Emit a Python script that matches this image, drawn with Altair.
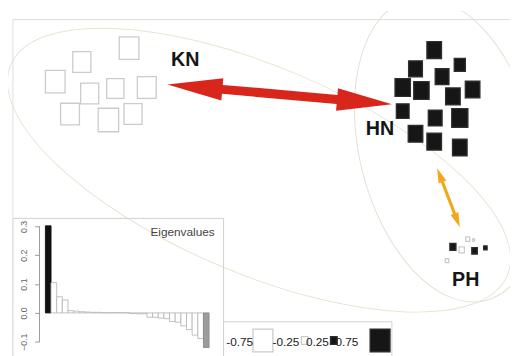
import math
import altair as alt
import pandas as pd

# ---------------- data ----------------
# sample scores on the two ordination axes and the plotted value of each sample
kn_x = [-1.29, -1.77, -2.04, -1.69, -1.43, -1.11, -1.89, -1.50, -1.25]
kn_y = [1.34, 1.20, 1.00, 0.88, 0.93, 0.94, 0.67, 0.61, 0.67]
kn_v = [-0.74, -0.68, -0.74, -0.68, -0.65, -0.71, -0.71, -0.77, -0.68]

hn_x = [1.81, 1.62, 2.07, 1.89, 1.49, 1.68, 2.00, 2.20, 1.49, 1.82, 2.07, 1.62, 1.81, 2.07]
hn_y = [1.32, 1.13, 1.17, 1.05, 0.94, 0.91, 0.85, 0.92, 0.70, 0.63, 0.63, 0.47, 0.39, 0.33]
hn_v = [0.55, 0.52, 0.42, 0.52, 0.58, 0.58, 0.55, 0.55, 0.48, 0.52, 0.61, 0.55, 0.55, 0.55]

ph_x = [2.15, 2.21, 2.00, 2.09, 2.22, 2.33, 1.94]
ph_y = [-0.60, -0.61, -0.68, -0.71, -0.72, -0.69, -0.82]
ph_v = [-0.15, -0.07, 0.23, -0.20, 0.21, 0.13, -0.13]

group_names = ["KN", "HN", "PH"]
group_lab_x = [-0.72, 1.26, 2.13]
group_lab_y = [1.22, 0.52, -1.02]

# arrows between groups (from, to)
red_arrow = [(-0.90, 0.97), (1.38, 0.77)]
yellow_arrow = [(1.84, 0.12), (2.07, -0.48)]

# ellipse centres
ell_big_centre = (0.03, 0.10)
ell_hn_centre = (1.95, 0.31)

# eigenvalues
eig = [0.302, 0.105, 0.056, 0.045, 0.008, 0.006, 0.004, 0.003, 0.002, 0.002,
       0.001, 0.001, 0.001, 0.001, 0.0005, -0.002, -0.003, -0.003, -0.015, -0.015,
       -0.018, -0.020, -0.030, -0.032, -0.045, -0.058, -0.077, -0.089, -0.120]
eig_ticks = [-0.1, 0.0, 0.1, 0.2, 0.3]

legend_vals = [-0.75, -0.25, 0.25, 0.75]

# ---------------- layout / style ----------------
W, H = 510, 348
PX = 100.0  # pixels per unit on main panel
XMIN, YMAX = -2.52, 1.72
xs = alt.Scale(domain=[XMIN, XMIN + W / PX], nice=False, zero=False)
ys = alt.Scale(domain=[YMAX - H / PX, YMAX], nice=False, zero=False)
FONT = "Liberation Sans"

RECT = "M-0.87,-1L0.87,-1L0.87,1L-0.87,1Z"
SIDE = 31.0  # pixel height of a square for |value| = 1
size_scale = alt.Scale(domain=[0, 1], range=[0, SIDE * SIDE])
fill_scale = alt.Scale(domain=["neg", "pos"], range=["#ffffff", "#161616"])
stroke_scale = alt.Scale(domain=["neg", "pos"], range=["#cbcbcb", "#2e2e2e"])


def ellipse_path(ratio):
    return (f"M1,0A1,{ratio} 0 1 1 -1,0A1,{ratio} 0 1 1 1,0Z")


def arrow_path(length_px, head_len, head_half, shaft_half):
    u = length_px / 2.0
    h = 1 - head_len / u
    a = head_half / u
    s = shaft_half / u
    return (f"M1,0L{h:.3f},{a:.3f}L{h:.3f},{s:.3f}L{-h:.3f},{s:.3f}L{-h:.3f},{a:.3f}"
            f"L-1,0L{-h:.3f},{-a:.3f}L{-h:.3f},{-s:.3f}L{h:.3f},{-s:.3f}L{h:.3f},{-a:.3f}Z")


def X(f):
    return alt.X(f, type="quantitative", scale=xs, axis=None)


def Y(f):
    return alt.Y(f, type="quantitative", scale=ys, axis=None)


one = pd.DataFrame({"z": [0]})

# ---------------- main panel ----------------
def ellipse_layer(centre, a_px, ratio, angle, color):
    df = pd.DataFrame({"x": [centre[0]], "y": [centre[1]]})
    return alt.Chart(df).mark_point(
        shape=ellipse_path(ratio), filled=False, color=color, strokeWidth=1,
        opacity=1, size=(2 * a_px) ** 2, angle=angle, clip=True
    ).encode(x=X("x"), y=Y("y"))


ell_big = ellipse_layer(ell_big_centre, 274, 0.383, 23, "#e8e5d2")
ell_hn = ellipse_layer(ell_hn_centre, 158, 0.568, 76, "#e3e1d3")

pts = pd.concat([
    pd.DataFrame({"x": kn_x, "y": kn_y, "v": kn_v, "g": "KN"}),
    pd.DataFrame({"x": hn_x, "y": hn_y, "v": hn_v, "g": "HN"}),
    pd.DataFrame({"x": ph_x, "y": ph_y, "v": ph_v, "g": "PH"}),
])

squares = alt.Chart(pts).transform_calculate(
    a2="datum.v * datum.v", sgn="datum.v > 0 ? 'pos' : 'neg'"
).mark_point(shape=RECT, filled=True, opacity=1, strokeWidth=1.3).encode(
    x=X("x"), y=Y("y"),
    size=alt.Size("a2:Q", scale=size_scale, legend=None),
    fill=alt.Fill("sgn:N", scale=fill_scale, legend=None),
    stroke=alt.Stroke("sgn:N", scale=stroke_scale, legend=None),
)


def arrow_layer(seg, color, head_len, head_half, shaft_half):
    (x0, y0), (x1, y1) = seg
    dxp = (x1 - x0) * PX
    dyp = -(y1 - y0) * PX
    L = math.hypot(dxp, dyp)
    ang = math.degrees(math.atan2(dyp, dxp)) % 360
    df = pd.DataFrame({"x": [(x0 + x1) / 2], "y": [(y0 + y1) / 2]})
    return alt.Chart(df).mark_point(
        shape=arrow_path(L, head_len, head_half, shaft_half), filled=True,
        color=color, opacity=1, strokeWidth=0, size=L * L, angle=ang
    ).encode(x=X("x"), y=Y("y"))


red = arrow_layer(red_arrow, "#d8261d", 56, 11.5, 4.6)
yellow = arrow_layer(yellow_arrow, "#f0a81c", 15, 4.2, 1.6)

labels = alt.Chart(pd.DataFrame({"t": group_names, "x": group_lab_x, "y": group_lab_y})).mark_text(
    font=FONT, fontSize=20, fontWeight="bold", color="#151515", baseline="middle", align="center"
).encode(x=X("x"), y=Y("y"), text="t:N")

frame_top = alt.Chart(one).mark_rule(color="#dedede", strokeWidth=1).encode(
    x=alt.value(5), x2=alt.value(W), y=alt.value(9))
frame_left = alt.Chart(one).mark_rule(color="#dedede", strokeWidth=1).encode(
    x=alt.value(5), y=alt.value(9), y2=alt.value(211))

main = alt.layer(ell_big, ell_hn, frame_top, frame_left, squares, red, yellow, labels)

# ---------------- eigenvalue inset ----------------
ix = alt.Scale(domain=[-38 / 5.734, (W - 38) / 5.734], nice=False, zero=False)
iy = alt.Scale(domain=[(315 - 356) / 293.0, (315 - 8) / 293.0], nice=False, zero=False)
inset_axis = alt.Axis(
    orient="left", offset=-32, values=eig_ticks, format=".1f", labelAngle=270,
    domain=False, grid=False, ticks=True, tickSize=5, tickColor="#9a9a9a",
    labelColor="#666666", labelFontSize=9, labelFont=FONT, labelPadding=6, title="")

eig_df = pd.DataFrame({"k": list(range(1, len(eig) + 1)), "e": eig})
n_eig = len(eig)
bars = alt.Chart(eig_df).transform_calculate(
    x0="datum.k - 1", x1="datum.k",
    kind=f"datum.k == 1 ? 'first' : (datum.k == {n_eig} ? 'last' : 'mid')"
).mark_rect(strokeWidth=0.9).encode(
    x=alt.X("x0:Q", scale=ix, axis=None), x2="x1:Q",
    y=alt.Y("e:Q", scale=iy, axis=inset_axis),
    y2=alt.datum(0),
    fill=alt.Fill("kind:N", scale=alt.Scale(domain=["first", "mid", "last"],
                                             range=["#111111", "#ffffff", "#9c9c9c"]), legend=None),
    stroke=alt.Stroke("kind:N", scale=alt.Scale(domain=["first", "mid", "last"],
                                                 range=["#111111", "#b8b8b8", "#8a8a8a"]), legend=None),
)

axis_line = alt.Chart(pd.DataFrame({"lo": [min(eig_ticks)], "hi": [max(eig_ticks)]})).mark_rule(
    color="#9a9a9a", strokeWidth=1).encode(
    x=alt.value(32), y=alt.Y("lo:Q", scale=iy, axis=inset_axis), y2="hi:Q")

inset_box = alt.Chart(one).mark_rect(fill="transparent", stroke="#d0d0d0", strokeWidth=1).encode(
    x=alt.value(5), x2=alt.value(219), y=alt.value(211), y2=alt.value(H + 6))

eig_title = alt.Chart(one).mark_text(
    text="Eigenvalues", font=FONT, fontSize=12, color="#444444", align="right", baseline="middle"
).encode(x=alt.value(210), y=alt.value(225))

inset = alt.layer(inset_box, bars, axis_line, eig_title)

# ---------------- value legend ----------------
leg_df = pd.DataFrame({"lv": legend_vals})
legend_box = alt.Chart(one).mark_rect(fill="#ffffff", stroke="#d0d0d0", strokeWidth=1).encode(
    x=alt.value(219), x2=alt.value(390), y=alt.value(316), y2=alt.value(H + 6))

leg_sq = alt.Chart(leg_df).transform_calculate(
    a2="datum.lv * datum.lv", sgn="datum.lv > 0 ? 'pos' : 'neg'"
).mark_point(shape=RECT, filled=True, opacity=1, strokeWidth=1.3).encode(
    x=alt.X("lv:Q", scale=alt.Scale(domain=legend_vals, range=[259, 301.5, 331, 378]), axis=None),
    y=alt.value(335),
    size=alt.Size("a2:Q", scale=size_scale, legend=None),
    fill=alt.Fill("sgn:N", scale=fill_scale, legend=None),
    stroke=alt.Stroke("sgn:N", scale=stroke_scale, legend=None),
)

leg_txt = alt.Chart(leg_df).transform_calculate(t="'' + datum.lv").mark_text(
    font=FONT, fontSize=12, color="#222222", align="right", baseline="middle"
).encode(
    x=alt.X("lv:Q", scale=alt.Scale(domain=legend_vals, range=[249, 296, 326, 356]), axis=None),
    y=alt.value(337), text="t:N")

chart = alt.layer(main, inset, legend_box, leg_sq, leg_txt).resolve_scale(
    x="independent", y="independent", size="independent", fill="independent", stroke="independent"
).properties(
    width=W, height=H, padding=0, autosize=alt.AutoSizeParams(type="none"), background="#ffffff"
).configure_view(stroke="transparent")

chart.save("out.html", embed_options={"renderer": "svg", "actions": False})
